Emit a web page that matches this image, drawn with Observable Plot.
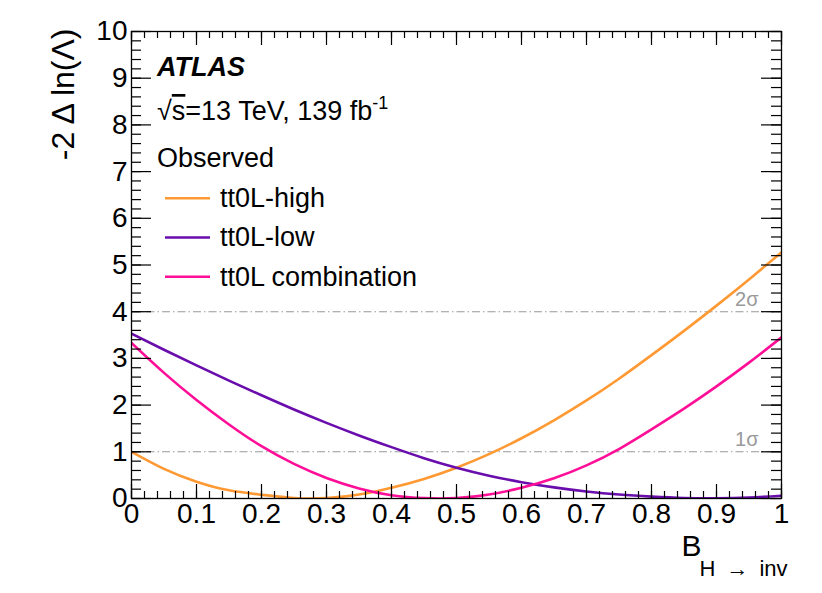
<!DOCTYPE html>
<html>
<head>
<meta charset="utf-8">
<script src="https://cdn.jsdelivr.net/npm/d3@7"></script>
<script src="https://cdn.jsdelivr.net/npm/@observablehq/plot@0.6"></script>
<style>
  html, body { margin: 0; padding: 0; background: #ffffff; }
  #chart svg { display: block; }
</style>
</head>
<body>
<div id="chart"></div>
<script>
// ---------------- data ----------------
const bValues     = [0, 0.05, 0.10, 0.15, 0.20, 0.25, 0.30, 0.35, 0.40, 0.45, 0.50, 0.55, 0.60, 0.65, 0.70, 0.75, 0.80, 0.85, 0.90, 0.95, 1.00];
const highValues  = [1.00, 0.635, 0.36, 0.175, 0.08, 0.012, 0.01, 0.085, 0.23, 0.42, 0.66, 0.95, 1.29, 1.675, 2.10, 2.565, 3.07, 3.59, 4.13, 4.69, 5.27];
const lowValues   = [3.53, 3.185, 2.85, 2.525, 2.21, 1.906, 1.62, 1.351, 1.10, 0.864, 0.66, 0.489, 0.35, 0.239, 0.15, 0.084, 0.04, 0.011, 0.005, 0.021, 0.06];
const combValues  = [3.33, 2.69, 2.11, 1.586, 1.12, 0.741, 0.44, 0.216, 0.07, 0.008, 0.01, 0.085, 0.23, 0.434, 0.71, 1.059, 1.48, 1.924, 2.40, 2.909, 3.45];

const seriesNames  = ["tt0L-high", "tt0L-low", "tt0L combination"];
const seriesColors = ["#ff9933", "#6a0dad", "#ff0f98"];
const seriesValues = [highValues, lowValues, combValues];

const xMajorTicks = [0, 0.1, 0.2, 0.3, 0.4, 0.5, 0.6, 0.7, 0.8, 0.9, 1];
const xTickLabels = ["0", "0.1", "0.2", "0.3", "0.4", "0.5", "0.6", "0.7", "0.8", "0.9", "1"];
const yMajorTicks = [0, 1, 2, 3, 4, 5, 6, 7, 8, 9, 10];
const xMinorTicks = d3.range(0, 51).map(i => i / 50);
const yMinorTicks = d3.range(0, 51).map(i => i / 5);

const sigmaLevels = [1, 4];
const sigmaLabels = ["1σ", "2σ"];

const yLabel = "-2 Δ ln(Λ)";
const xLabelMain = "B";
const xLabelSub = "H\u2002\u2192\u2002inv";
const experiment = "ATLAS";
const energyText = "13 TeV, 139 fb";
const lumiExp = "-1";
const legendTitle = "Observed";

// ---------------- layout ----------------
const W = 822, H = 593;
const mL = 131, mR = 41, mT = 31, mB = 95;
const fW = W - mL - mR, fH = H - mT - mB;
const FONT = "'Liberation Sans', Arial, Helvetica, sans-serif";

const rows = [];
seriesNames.forEach((name, s) => {
  bValues.forEach((b, i) => rows.push({b, v: seriesValues[s][i], series: name}));
});

// legend + header drawn in frame-relative pixels
function annotations() {
  const g = d3.create("svg:g").attr("font-family", FONT).attr("text-anchor", "start").attr("fill", "black");
  g.append("text").attr("x", mL + 26).attr("y", mT + 45)
    .attr("font-size", 27).attr("font-weight", "bold").attr("font-style", "italic")
    .text(experiment);
  const t = g.append("text").attr("x", mL + 26).attr("y", mT + 89).attr("font-size", 27);
  t.append("tspan").text("\u221A");
  t.append("tspan").attr("text-decoration", "overline").text("s");
  t.append("tspan").text("=" + energyText);
  t.append("tspan").attr("font-size", 18).attr("dy", -11).text(lumiExp);
  g.append("text").attr("x", mL + 26).attr("y", mT + 136).attr("font-size", 27).text(legendTitle);
  seriesNames.forEach((name, i) => {
    const y = mT + 167.3 + i * 39.2;
    g.append("line").attr("x1", mL + 34).attr("x2", mL + 79).attr("y1", y).attr("y2", y)
      .attr("stroke", seriesColors[i]).attr("stroke-width", 2.6);
    g.append("text").attr("x", mL + 89).attr("y", y + 8.8).attr("font-size", 27).text(name);
  });
  return g.node();
}

const chart = Plot.plot({
  width: W,
  height: H,
  marginLeft: mL,
  marginRight: mR,
  marginTop: mT,
  marginBottom: mB,
  style: {fontFamily: FONT, background: "#ffffff", overflow: "visible", color: "black"},
  x: {domain: [0, 1]},
  y: {domain: [0, 10]},
  color: {domain: seriesNames, range: seriesColors},
  marks: [
    // sigma reference lines
    Plot.ruleY(sigmaLevels, {y: d => d, stroke: "#999", strokeWidth: 1.1, strokeDasharray: "8,3,1.5,3"}),
    Plot.text(sigmaLevels, {y: d => d, text: (d, i) => sigmaLabels[i], frameAnchor: "right",
      textAnchor: "end", lineAnchor: "bottom", dx: -23, dy: -6, fontSize: 20, fill: "#999"}),
    // curves
    Plot.line(rows, {x: "b", y: "v", z: "series", stroke: "series", curve: "natural", strokeWidth: 2.6, clip: true}),
    // ticks (all four sides, inward)
    Plot.ruleX(xMinorTicks, {x: d => d, insetTop: fH - 7, stroke: "black", strokeWidth: 1.2}),
    Plot.ruleX(xMajorTicks, {x: d => d, insetTop: fH - 14, stroke: "black", strokeWidth: 1.2}),
    Plot.ruleX(xMinorTicks, {x: d => d, insetBottom: fH - 7, stroke: "black", strokeWidth: 1.2}),
    Plot.ruleX(xMajorTicks, {x: d => d, insetBottom: fH - 14, stroke: "black", strokeWidth: 1.2}),
    Plot.ruleY(yMinorTicks, {y: d => d, insetRight: fW - 10, stroke: "black", strokeWidth: 1.2}),
    Plot.ruleY(yMajorTicks, {y: d => d, insetRight: fW - 20, stroke: "black", strokeWidth: 1.2}),
    Plot.ruleY(yMinorTicks, {y: d => d, insetLeft: fW - 10, stroke: "black", strokeWidth: 1.2}),
    Plot.ruleY(yMajorTicks, {y: d => d, insetLeft: fW - 20, stroke: "black", strokeWidth: 1.2}),
    Plot.frame({stroke: "black", strokeWidth: 1.3}),
    // axes labels
    Plot.axisX({ticks: xMajorTicks, tickSize: 0, tickPadding: 5, fontSize: 28, label: null,
      tickFormat: d => xTickLabels[xMajorTicks.indexOf(d)]}),
    Plot.axisY({ticks: yMajorTicks, tickSize: 0, tickPadding: 4, fontSize: 28, label: null}),
    Plot.text([yLabel], {frameAnchor: "top-left", rotate: -90, textAnchor: "end", lineAnchor: "bottom",
      dx: -58, dy: -3, fontSize: 32}),
    Plot.text([xLabelMain], {frameAnchor: "bottom-right", textAnchor: "start", lineAnchor: "bottom",
      dx: -100, dy: 57, fontSize: 30}),
    Plot.text([xLabelSub], {frameAnchor: "bottom-right", textAnchor: "start", lineAnchor: "bottom",
      dx: -82, dy: 77, fontSize: 22}),
    annotations
  ]
});

document.getElementById("chart").appendChild(chart);
</script>
</body>
</html>
